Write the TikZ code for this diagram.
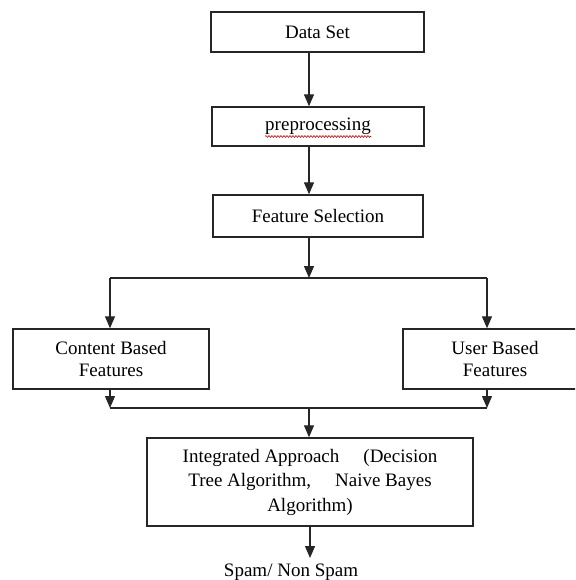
\documentclass[tikz,border=0pt]{standalone}
\usepackage{fontspec}
\setmainfont{Liberation Serif}
\usetikzlibrary{arrows.meta,calc,decorations.pathmorphing}

\begin{document}
\begin{tikzpicture}[x=1pt,y=-1pt,
  box/.style={draw=black!85, line width=1.4pt, rectangle, inner sep=0pt,
              font=\fontsize{19}{22}\selectfont, align=center},
  link/.style={draw=black!85, line width=1.3pt},
  arr/.style={link, -{Triangle[width=10pt,length=12pt]}}]
  \useasboundingbox (0,0) rectangle (575,580);
  \clip (0,0) rectangle (575,580);

  % process boxes
  \node[box, minimum width=213pt, minimum height=40pt] (ds) at (317.5,32) {Data Set};
  \node[box, minimum width=212pt, minimum height=39pt] (pp) at (318,126.5) {preprocessing};
  \node[box, minimum width=210pt, minimum height=42pt] (fs) at (318,216) {Feature Selection};
  \node[box, minimum width=196pt, minimum height=60pt] (cb) at (111,359) {Content Based\\Features};
  \node[box, minimum width=184pt, minimum height=60pt] (ub) at (495,359) {User Based\\Features};
  \node[box, minimum width=326pt, minimum height=88pt,
        font=\fontsize{19}{24.5}\selectfont] (ia) at (310,482)
        {Integrated Approach\hspace{24pt}(Decision\\Tree Algorithm,\hspace{24pt}Naive Bayes\\Algorithm)};
  \node[font=\fontsize{19}{22}\selectfont, inner sep=0pt, anchor=base] (out) at (291,576) {Spam/ Non Spam};

  % spell-check underline
  \draw[red!80!black, line width=0.6pt, decorate,
        decoration={snake, amplitude=0.9pt, segment length=3pt}]
        ($(pp.center)+(-53,10)$) -- ($(pp.center)+(53,10)$);

  % routing points
  \coordinate (axis) at (309,0);
  \coordinate (split) at (309,278);
  \coordinate (sl) at (110,278);
  \coordinate (sr) at (487,278);
  \coordinate (ml) at (110,408);
  \coordinate (mr) at (487,408);
  \coordinate (merge) at (309,408);
  \coordinate (end) at (310,558);

  % main flow
  \draw[arr] (ds.south -| axis) -- (pp.north -| axis);
  \draw[arr] (pp.south -| axis) -- (fs.north -| axis);
  \draw[arr] (fs.south -| axis) -- (split);

  % branch to the two feature sets
  \draw[link] (sl) -- (sr);
  \draw[arr] (sl) -- (sl |- cb.north);
  \draw[arr] (sr) -- (sr |- ub.north);

  % merge into the integrated approach
  \draw[arr] (ml |- cb.south) -- (ml);
  \draw[arr] (mr |- ub.south) -- (mr);
  \draw[link] (ml) -- (mr);
  \draw[arr] (merge) -- (merge |- ia.north);
  \draw[arr] (ia.south -| end) -- (end);
\end{tikzpicture}
\end{document}
